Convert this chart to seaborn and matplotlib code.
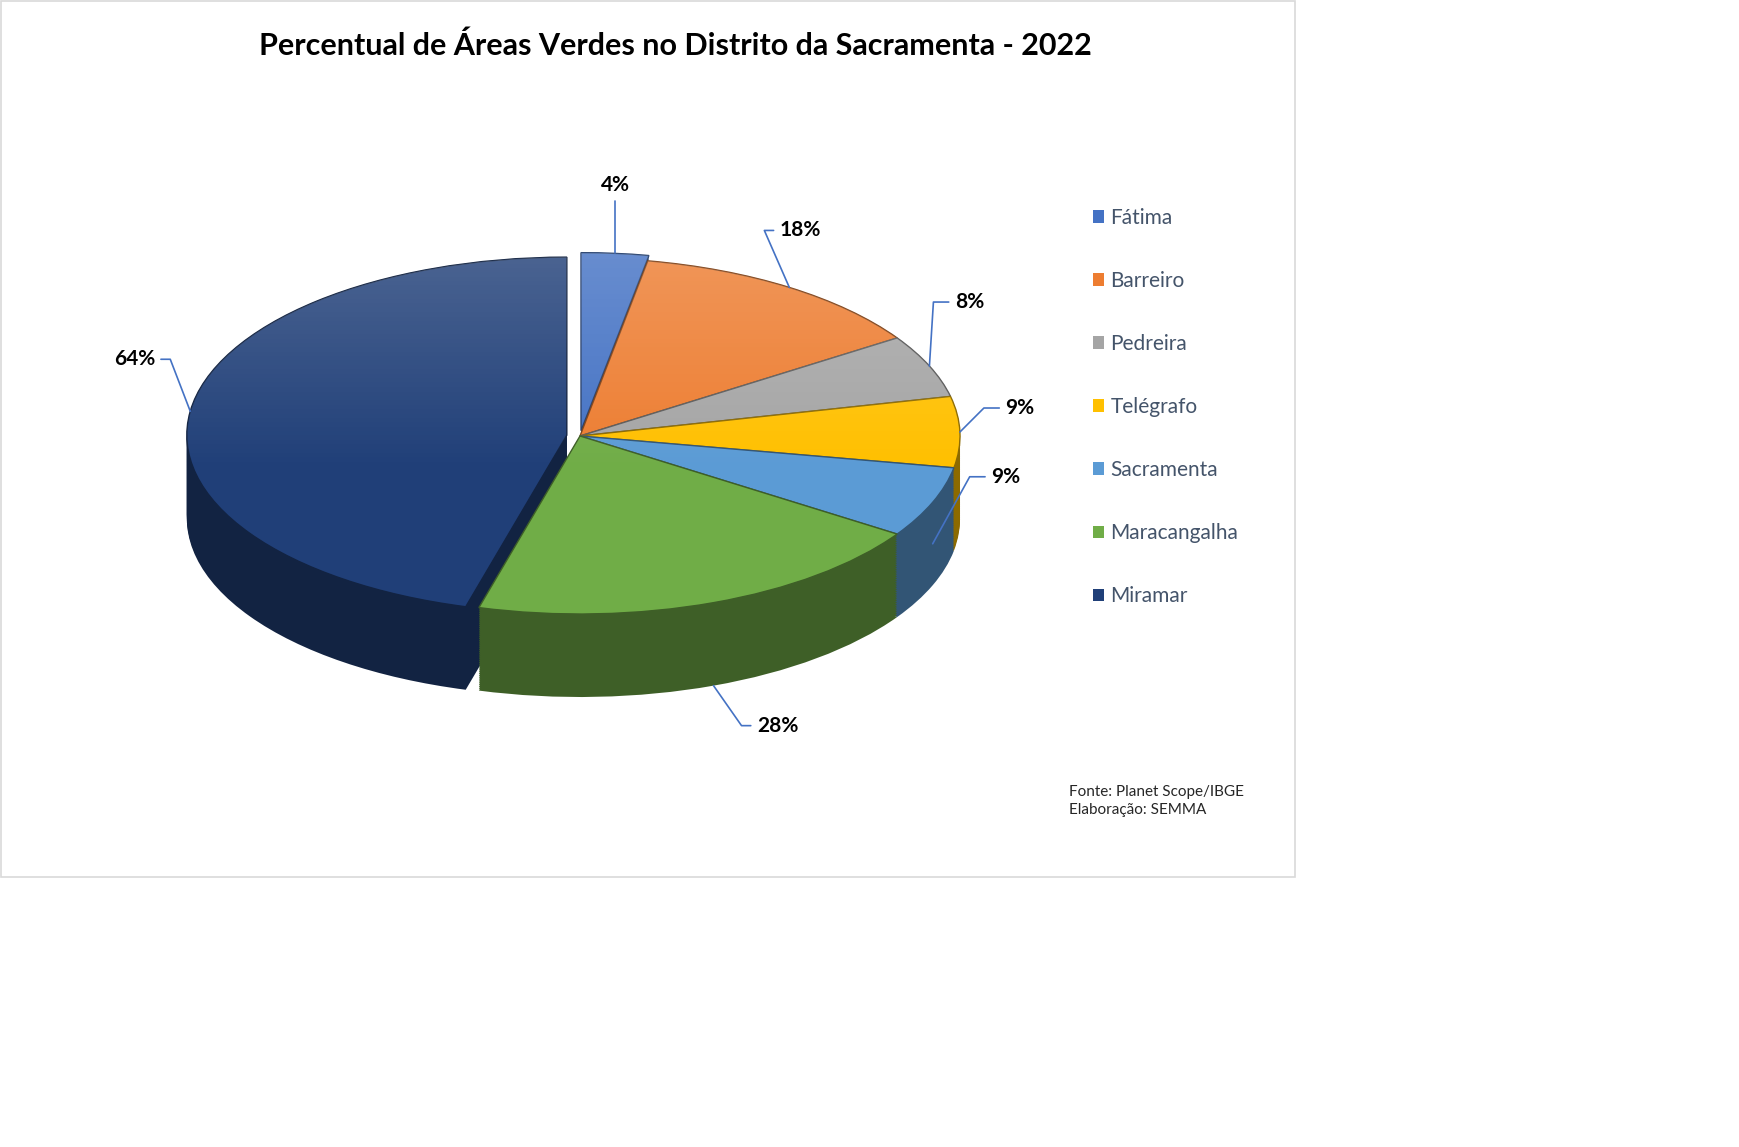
import numpy as np
import matplotlib
matplotlib.use("Agg")
import matplotlib.pyplot as plt
import seaborn as sns
from matplotlib.patches import Rectangle, Patch
from matplotlib.colors import to_rgb

# dados
bairros = ["Fátima", "Barreiro", "Pedreira", "Telégrafo", "Sacramenta", "Maracangalha", "Miramar"]
percentuais = [4, 18, 8, 9, 9, 28, 64]
rotulos = ["4%", "18%", "8%", "9%", "9%", "28%", "64%"]

cores = ["#4472C4", "#ED7D31", "#A5A5A5", "#FFC000", "#5B9BD5", "#70AD47", "#203F78"]
destaque = [0.03, 0, 0, 0, 0, 0, 0.035]

# posicao dos rotulos (pixels, relativo a borda da fatia) e queda na parede lateral
desloc = [(0, 68), (11, 57), (40, 64), (60, 24), (73, 67), (64, -40), (-56, 52)]
queda = [0, 0, 0, 0, 0.5, 1.0, 0]

sns.set_theme(style="white")
plt.rcParams["font.family"] = ["Lato", "DejaVu Sans"]

W, H = 1740, 1147
fig = plt.figure(figsize=(W / 100, H / 100), dpi=100)
fig.patch.set_facecolor("white")

# moldura do grafico
FW, FH = 1294, 877
fig.patches.append(Rectangle((0.6 / W, 1 - FH / H), FW / W, FH / H - 0.6 / H,
                             transform=fig.transFigure, fill=False, ec="#d9d9d9", lw=1.2))

ax = fig.add_axes([0, 1 - FH / H, FW / W, FH / H])
cx, cy, rx, ry = 580, 436, 380, 178  # centro e raios da elipse em pixels
prof = 83 / ry
camadas = 45

# parede lateral: varias camadas escuras empilhadas
sombra = [tuple(c * 0.55 for c in to_rgb(k)) for k in cores]
for i in range(camadas, 0, -1):
    ax.pie(percentuais, colors=sombra, startangle=90, counterclock=False,
           explode=destaque, center=(0, -prof * i / camadas),
           wedgeprops=dict(linewidth=0))

topo, _ = ax.pie(percentuais, colors=cores, startangle=90, counterclock=False,
                 explode=destaque, center=(0, 0), wedgeprops=dict(linewidth=1.0))
for w, s in zip(topo, sombra):
    w.set_edgecolor(s)

# brilho suave no topo
grad = np.zeros((100, 2, 4))
grad[..., :3] = 1.0
grad[..., 3] = np.linspace(0.22, 0.0, 100)[:, None]
for w in topo:
    im = ax.imshow(grad, extent=(-1.2, 1.2, -0.2, 1.2), aspect="auto", zorder=w.get_zorder() + 0.1)
    im.set_clip_path(w)

# rotulos de porcentagem com linhas de chamada
for w, txt, (dx, dy), q in zip(topo, rotulos, desloc, queda):
    ang = np.deg2rad((w.theta1 + w.theta2) / 2)
    x0, y0 = w.center
    ponto = (x0 + w.r * np.cos(ang), y0 + w.r * np.sin(ang) - q * prof)
    if dx == 0:
        angB = 90
    else:
        hor = dx - np.sign(dx) * 36
        angB = np.degrees(np.arctan2(dy, hor))
    ax.annotate(txt, xy=ponto, xytext=(dx, dy), textcoords="offset pixels",
                ha="center", va="center", fontsize=15, fontweight="bold", color="black",
                arrowprops=dict(arrowstyle="-", color="#4472C4", lw=1.2, shrinkA=2, shrinkB=0,
                                connectionstyle=f"angle,angleA=0,angleB={angB},rad=0"))

ax.set_aspect("auto")
ax.set_xlim(-cx / rx, (FW - cx) / rx)
ax.set_ylim((cy - FH) / ry, cy / ry)
ax.axis("off")

handles = [Patch(facecolor=c, edgecolor="none") for c in cores]
ax.legend(handles, bairros, loc="center left", bbox_to_anchor=(1074 / W, 1 - 407 / H),
          bbox_transform=fig.transFigure, frameon=False, fontsize=15, labelspacing=2.07,
          handlelength=0.55, handleheight=0.55, handletextpad=0.3, labelcolor="#44546A")

fig.text(675 / W, 1 - 46 / H, "Percentual de Áreas Verdes no Distrito da Sacramenta - 2022",
         ha="center", va="center", fontsize=22, fontweight="bold", color="black")
fig.text(1069 / W, 1 - 801 / H, "Fonte: Planet Scope/IBGE\nElaboração: SEMMA",
         ha="left", va="center", fontsize=11, linespacing=1.35, color="#262626")

fig.savefig("out.png", dpi=100)
